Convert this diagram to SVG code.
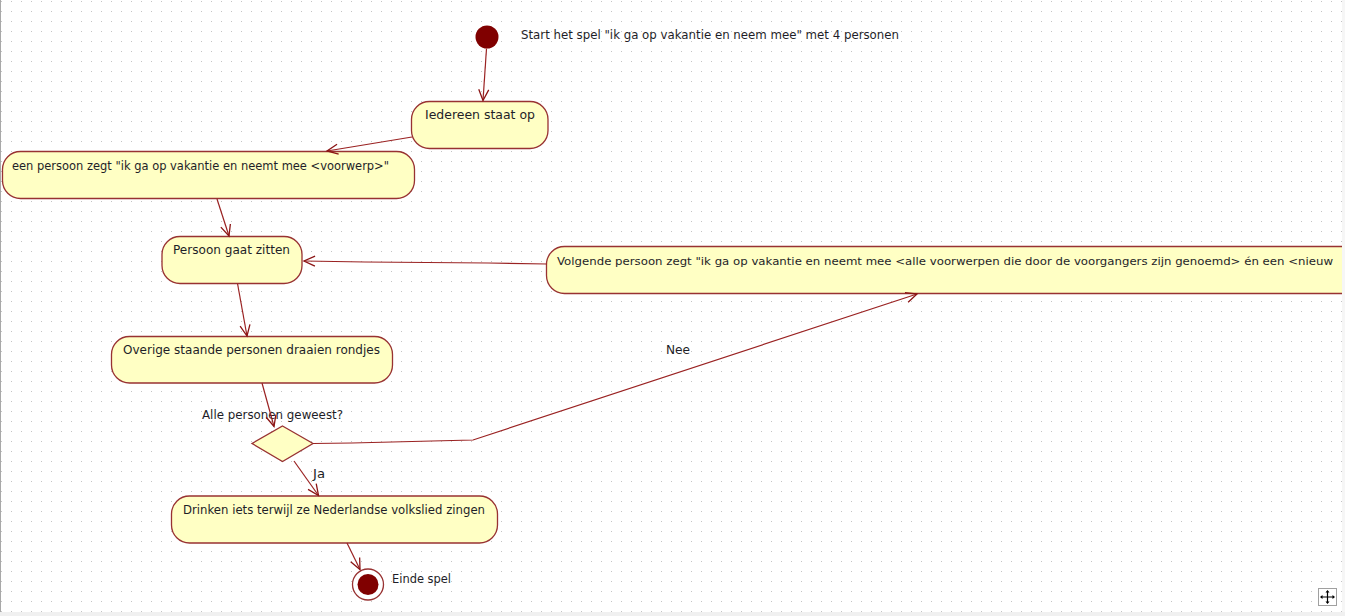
<svg xmlns="http://www.w3.org/2000/svg" width="1345" height="616" viewBox="0 0 1345 616">
<style>
.node{fill:#ffffc4;stroke:#983232;stroke-width:1.3}
.t{font-family:"DejaVu Sans","Liberation Sans",sans-serif;font-size:12px;fill:#1e1e28}
.c{fill:none;stroke:#9a2222;stroke-width:1.2}
</style>
<defs>
<pattern id="grid" width="10" height="10" patternUnits="userSpaceOnUse"><rect x="1" y="1" width="1" height="1" fill="#c4c4c4"/></pattern>
<marker id="arr" viewBox="-13 -7 15 14" refX="0" refY="0" markerWidth="15" markerHeight="14" markerUnits="userSpaceOnUse" orient="auto" overflow="visible"><path d="M-11,-5 L0,0 L-11,5" fill="none" stroke="#8b1414" stroke-width="1.3"/></marker>
</defs>
<rect x="0" y="0" width="1345" height="616" fill="#ffffff"/>
<rect x="0" y="0" width="1342" height="612" fill="url(#grid)"/>
<line x1="0.5" y1="0" x2="0.5" y2="612" stroke="#a8a8a8" stroke-width="1"/>

<g id="start">
<circle cx="487" cy="37" r="11.5" fill="#800000"/>
<text class="t" x="521" y="39" textLength="378" lengthAdjust="spacingAndGlyphs">Start het spel "ik ga op vakantie en neem mee" met 4 personen</text>
</g>
<g id="iedereen">
<rect class="node" x="411.5" y="101.5" width="136.5" height="47" rx="18" ry="18"/>
<text class="t" x="425" y="119" textLength="110" lengthAdjust="spacingAndGlyphs">Iedereen staat op</text>
</g>
<g id="eenpersoon">
<rect class="node" x="2.5" y="151.5" width="412" height="47" rx="18" ry="18"/>
<text class="t" x="12" y="170" textLength="377" lengthAdjust="spacingAndGlyphs">een persoon zegt "ik ga op vakantie en neemt mee &lt;voorwerp&gt;"</text>
</g>
<g id="zitten">
<rect class="node" x="162" y="236.5" width="140" height="47" rx="18" ry="18"/>
<text class="t" x="173" y="254" textLength="117" lengthAdjust="spacingAndGlyphs">Persoon gaat zitten</text>
</g>
<g id="volgende">
<path class="node" d="M1342,246.5 L564.5,246.5 A18,18 0 0 0 546.5,264.5 L546.5,275.5 A18,18 0 0 0 564.5,293.5 L1342,293.5"/>
<text class="t" x="557" y="265" style="font-size:11.2px" textLength="776" lengthAdjust="spacingAndGlyphs">Volgende persoon zegt "ik ga op vakantie en neemt mee &lt;alle voorwerpen die door de voorgangers zijn genoemd&gt; én een &lt;nieuw</text>
</g>
<g id="overige">
<rect class="node" x="111.5" y="336.5" width="281" height="46.5" rx="18" ry="18"/>
<text class="t" x="123" y="354" textLength="257" lengthAdjust="spacingAndGlyphs">Overige staande personen draaien rondjes</text>
</g>
<g id="beslissing">
<polygon class="node" points="282.5,426 313,443.5 282.5,461.5 252,443.5"/>
<text class="t" x="202" y="419" textLength="141" lengthAdjust="spacingAndGlyphs">Alle personen geweest?</text>
</g>
<g id="drinken">
<rect class="node" x="171.5" y="496" width="326" height="47" rx="18" ry="18"/>
<text class="t" x="183" y="514" textLength="302" lengthAdjust="spacingAndGlyphs">Drinken iets terwijl ze Nederlandse volkslied zingen</text>
</g>
<g id="einde">
<circle cx="368" cy="584.5" r="15.5" fill="#ffffff" stroke="#983232" stroke-width="1.3"/>
<circle cx="368" cy="584.5" r="10.5" fill="#800000"/>
<text class="t" x="392" y="583" textLength="59" lengthAdjust="spacingAndGlyphs">Einde spel</text>
</g>

<g id="connectors">
<path class="c" d="M486.5,48.5 L483,100.5" marker-end="url(#arr)"/>
<path class="c" d="M412,137 L327,151" marker-end="url(#arr)"/>
<path class="c" d="M217,199 L229,236" marker-end="url(#arr)"/>
<path class="c" d="M237.5,283.5 L247,336" marker-end="url(#arr)"/>
<path class="c" d="M262,383 L274,426.5" marker-end="url(#arr)"/>
<path class="c" d="M313,443.5 L352,443 L432,441 L473,440 L917,294" marker-end="url(#arr)"/>
<path class="c" d="M547,264 L488,263 L365,262 L304,261" marker-end="url(#arr)"/>
<path class="c" d="M294,461 L318.5,495.5" marker-end="url(#arr)"/>
<path class="c" d="M347,543 L360,569.5" marker-end="url(#arr)"/>
<text class="t" x="666" y="354" textLength="24" lengthAdjust="spacingAndGlyphs">Nee</text>
<text class="t" x="313" y="478" textLength="12" lengthAdjust="spacingAndGlyphs">Ja</text>
</g>

<rect x="1342" y="0" width="3" height="612" fill="#f6f6f6"/>
<rect x="0" y="612" width="1345" height="4" fill="#f0f0f0"/>
<g id="scrollwidget">
<rect x="1318.5" y="588.5" width="18" height="17" fill="#ffffff" stroke="#a0a0a0"/>
<path d="M1327.5,591 L1327.5,603 M1321,597 L1334,597" stroke="#000000" stroke-width="1.2"/>
<path d="M1327.5,590 L1325.5,592.5 L1329.5,592.5 Z M1327.5,604 L1325.5,601.5 L1329.5,601.5 Z M1320,597 L1322.5,595 L1322.5,599 Z M1335,597 L1332.5,595 L1332.5,599 Z" fill="#000000"/>
</g>
</svg>
